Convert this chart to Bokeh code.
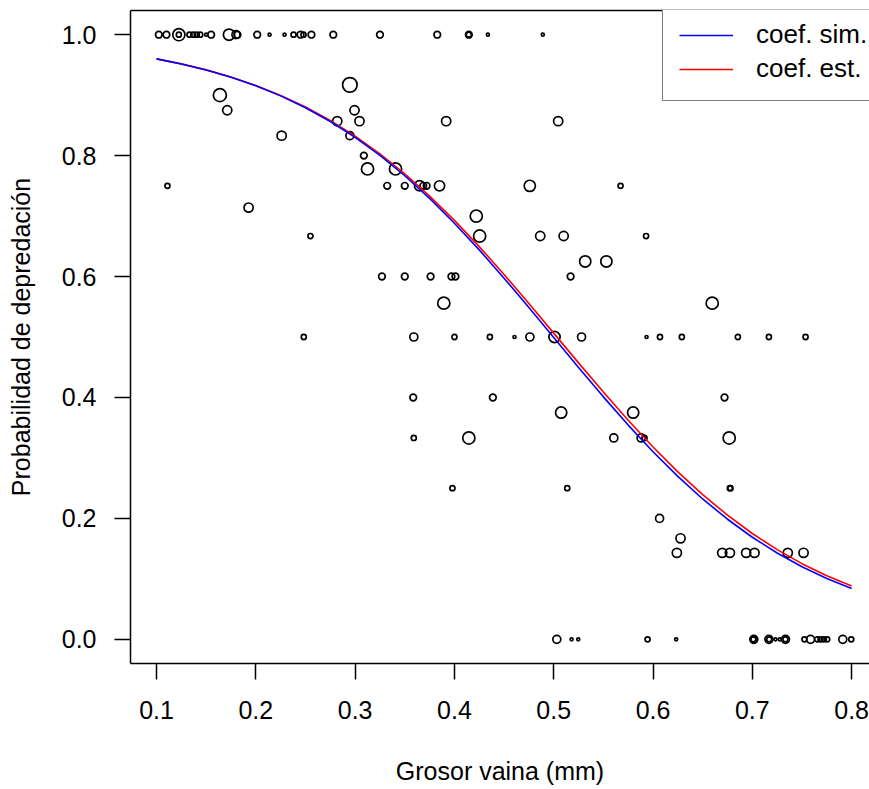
import math
from bokeh.plotting import figure
from bokeh.models import (Range1d, LinearAxis, FixedTicker, Legend, LegendItem,
                          ColumnDataSource, PrintfTickFormatter)
from bokeh.embed import file_html
from bokeh.resources import INLINE

# ---------------- data ----------------
# observed proportions of predation vs. pod thickness; n = weight that sets circle size
grosor = [
    # y = 1.0
    0.1023, 0.1100, 0.1225, 0.1225, 0.1332, 0.1370, 0.1405, 0.1440, 0.1500, 0.1550,
    0.1730, 0.1800, 0.1815, 0.2014, 0.2138, 0.2289, 0.2380, 0.2450, 0.2480, 0.2560,
    0.2780, 0.3250, 0.3827, 0.4145, 0.4145, 0.4337, 0.4890,
    # upper part
    0.1638, 0.1712, 0.1110, 0.1927, 0.2260, 0.2947, 0.2820, 0.2994, 0.3044, 0.2947,
    0.3088, 0.3125, 0.3407, 0.3323, 0.3500, 0.3649, 0.3686, 0.3720, 0.3850, 0.4759,
    0.5673, 0.3917, 0.5045, 0.4220, 0.4254, 0.4864, 0.5100, 0.5930, 0.5317, 0.5530,
    0.3270, 0.3500, 0.3760, 0.3970, 0.4010, 0.5170, 0.3893, 0.6596, 0.2550,
    # y = 0.5
    0.2483, 0.3591, 0.4000, 0.4357, 0.4605, 0.4760, 0.5008, 0.5280, 0.5935, 0.6070,
    0.6290, 0.6854, 0.7167, 0.7536,
    # lower part
    0.3585, 0.4387, 0.6720, 0.5075, 0.5800, 0.3591, 0.4145, 0.5605, 0.5880, 0.5914,
    0.6767, 0.3980, 0.5136, 0.6774, 0.6780, 0.6066, 0.6277,
    0.6240, 0.6697, 0.6774, 0.6938, 0.7022, 0.7357, 0.7516,
    # y = 0
    0.5031, 0.5180, 0.5247, 0.5945, 0.6233, 0.7015, 0.7015, 0.7010, 0.7167, 0.7170,
    0.7234, 0.7277, 0.7334, 0.7334, 0.7525, 0.7586, 0.7653, 0.7687, 0.7720, 0.7754,
    0.7911, 0.7996,
]
prob = [
    1, 1, 1, 1, 1, 1, 1, 1, 1, 1,
    1, 1, 1, 1, 1, 1, 1, 1, 1, 1,
    1, 1, 1, 1, 1, 1, 1,
    0.900, 0.875, 0.750, 0.714, 0.833, 0.917, 0.857, 0.875, 0.857, 0.833,
    0.800, 0.778, 0.778, 0.750, 0.750, 0.750, 0.750, 0.750, 0.750, 0.750,
    0.750, 0.857, 0.857, 0.700, 0.667, 0.667, 0.667, 0.667, 0.625, 0.625,
    0.600, 0.600, 0.600, 0.600, 0.600, 0.600, 0.556, 0.556, 0.667,
    0.5, 0.5, 0.5, 0.5, 0.5, 0.5, 0.5, 0.5, 0.5, 0.5,
    0.5, 0.5, 0.5, 0.5,
    0.400, 0.400, 0.400, 0.375, 0.375, 0.333, 0.333, 0.333, 0.333, 0.333,
    0.333, 0.250, 0.250, 0.250, 0.250, 0.200, 0.167,
    0.143, 0.143, 0.143, 0.143, 0.143, 0.143, 0.143,
    0, 0, 0, 0, 0, 0, 0, 0, 0, 0,
    0, 0, 0, 0, 0, 0, 0, 0, 0, 0,
    0, 0,
]
n_obs = [
    3, 3, 8, 2, 2, 2, 2, 2, 1, 3,
    7, 4, 3, 3, 1, 1, 2, 3, 2, 3,
    3, 3, 3, 3, 2, 1, 1,
    9, 5, 2, 5, 5, 11, 5, 5, 5, 4,
    3, 8, 8, 3, 3, 6, 3, 3, 6, 7,
    2, 5, 5, 8, 8, 5, 5, 2, 7, 7,
    3, 3, 3, 3, 3, 3, 8, 8, 2,
    2, 4, 2, 2, 1, 4, 7, 4, 1, 2,
    2, 2, 2, 2,
    3, 3, 3, 7, 7, 2, 8, 4, 4, 2,
    8, 2, 2, 2, 2, 4, 5,
    5, 5, 5, 5, 5, 5, 5,
    4, 1, 1, 2, 1, 4, 3, 2, 4, 2,
    1, 1, 4, 2, 2, 4, 2, 2, 2, 2,
    4, 2,
]

# fitted curves, values
curva_x = [0.100, 0.125, 0.150, 0.175, 0.200, 0.225, 0.250, 0.275, 0.300, 0.325,
           0.350, 0.375, 0.400, 0.425, 0.450, 0.475, 0.500, 0.525, 0.550, 0.575,
           0.600, 0.625, 0.650, 0.675, 0.700, 0.725, 0.750, 0.775, 0.800]
coef_sim = [0.9600, 0.9516, 0.9416, 0.9296, 0.9155, 0.8988, 0.8792, 0.8564, 0.8302, 0.8004,
            0.7667, 0.7292, 0.6882, 0.6441, 0.5973, 0.5487, 0.4991, 0.4496, 0.4010, 0.3543,
            0.3103, 0.2694, 0.2321, 0.1986, 0.1688, 0.1427, 0.1201, 0.1006, 0.0840]
coef_est = [0.9600, 0.9517, 0.9418, 0.9300, 0.9160, 0.8996, 0.8804, 0.8580, 0.8323, 0.8030,
            0.7699, 0.7331, 0.6929, 0.6495, 0.6034, 0.5554, 0.5064, 0.4572, 0.4089, 0.3622,
            0.3181, 0.2770, 0.2393, 0.2053, 0.1750, 0.1483, 0.1251, 0.1051, 0.0880]

x_ticks = [0.1, 0.2, 0.3, 0.4, 0.5, 0.6, 0.7, 0.8]
y_ticks = [0.0, 0.2, 0.4, 0.6, 0.8, 1.0]
x_title = "Grosor vaina (mm)"
y_title = "Probabilidad de depredación"
legend_labels = ["coef. sim.", "coef. est."]

# ---------------- figure ----------------
FONT = "Liberation Sans"
FS = "25px"

p = figure(width=869, height=789,
           x_range=Range1d(0.0738, 0.818), y_range=Range1d(-0.04, 1.04),
           output_backend="svg", toolbar_location=None,
           min_border_left=130, min_border_right=0, min_border_top=10, min_border_bottom=126,
           x_axis_label=x_title, y_axis_label=y_title)
p.outline_line_color = None
p.xgrid.visible = False
p.ygrid.visible = False
p.background_fill_color = "white"
p.border_fill_color = "white"

for ax, ticks in ((p.xaxis[0], x_ticks), (p.yaxis[0], y_ticks)):
    ax.ticker = FixedTicker(ticks=ticks)
    ax.formatter = PrintfTickFormatter(format="%.1f")
    ax.minor_tick_line_color = None
    ax.major_tick_in = 0
    ax.major_tick_out = 16
    ax.major_tick_line_width = 1.5
    ax.axis_line_width = 1.5
    ax.axis_line_color = "black"
    ax.major_tick_line_color = "black"
    ax.major_label_text_font = FONT
    ax.major_label_text_font_size = FS
    ax.major_label_text_color = "black"
    ax.axis_label_text_font = FONT
    ax.axis_label_text_font_size = FS
    ax.axis_label_text_font_style = "normal"
    ax.axis_label_text_color = "black"

p.xaxis[0].major_label_standoff = 21
p.xaxis[0].axis_label_standoff = 35
p.yaxis[0].major_label_standoff = 18
p.yaxis[0].axis_label_standoff = 24

# top border of the box
top = LinearAxis(ticker=FixedTicker(ticks=[]), axis_line_width=1.5, axis_line_color="black",
                 major_tick_line_color=None, minor_tick_line_color=None,
                 major_label_text_font_size="0px")
p.add_layout(top, "above")

src = ColumnDataSource(dict(x=grosor, y=prob,
                            s=[5.0 * math.sqrt(n) - 2.0 for n in n_obs]))
p.scatter(x="x", y="y", size="s", source=src, marker="circle",
          fill_color=None, line_color="black", line_width=1.7)

r_est = p.line(curva_x, coef_est, line_color="#FF0000", line_width=1.6)
r_sim = p.line(curva_x, coef_sim, line_color="#0000FF", line_width=1.6)

legend = Legend(items=[LegendItem(label=legend_labels[0], renderers=[r_sim]),
                       LegendItem(label=legend_labels[1], renderers=[r_est])],
                location=(532, 562), orientation="vertical",
                border_line_color="black", border_line_width=1.5,
                background_fill_color="white", background_fill_alpha=1.0,
                padding=16, spacing=3, margin=0,
                glyph_width=54, glyph_height=28, label_height=28, label_standoff=23,
                label_text_font=FONT, label_text_font_size="26px", label_text_color="black")
p.add_layout(legend)

open("out.html", "w").write(file_html(p, INLINE))
